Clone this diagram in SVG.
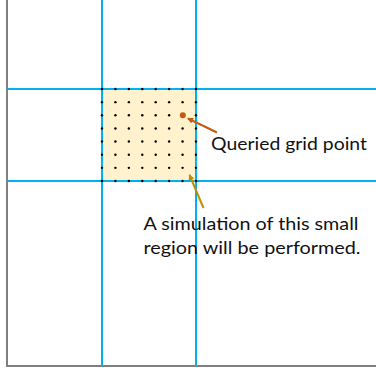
<svg xmlns="http://www.w3.org/2000/svg" xmlns:xlink="http://www.w3.org/1999/xlink" width="376" height="370" viewBox="0 0 376 370">
<style>
.grid{stroke:#00B0F0;stroke-width:2;fill:none}
.frame{stroke:#7F7F7F;stroke-width:2;fill:none}
.dot{fill:#000}
.lbl{font-family:"Lato","Liberation Sans",sans-serif;font-size:18px;fill:#111}
</style>
<defs>
<marker id="ahO" markerWidth="6" markerHeight="6" refX="5" refY="3" orient="auto" markerUnits="userSpaceOnUse"><path d="M0,0 L6,3 L0,6 z" fill="#C55A11"/></marker>
<marker id="ahG" markerWidth="6" markerHeight="6" refX="5" refY="3" orient="auto" markerUnits="userSpaceOnUse"><path d="M0,0 L6,3 L0,6 z" fill="#BF9000"/></marker>
<g id="dotrow">
<circle class="dot" cx="102" cy="0" r="1.2"/>
<circle class="dot" cx="115.43" cy="0" r="1.2"/>
<circle class="dot" cx="128.86" cy="0" r="1.2"/>
<circle class="dot" cx="142.29" cy="0" r="1.2"/>
<circle class="dot" cx="155.71" cy="0" r="1.2"/>
<circle class="dot" cx="169.14" cy="0" r="1.2"/>
<circle class="dot" cx="182.57" cy="0" r="1.2"/>
<circle class="dot" cx="196" cy="0" r="1.2"/>
</g>
</defs>
<g id="frame">
<polyline class="frame" points="7,0 7,366 376,366"/>
</g>
<g id="region">
<rect x="102" y="89" width="94" height="92" fill="#FFF2CC"/>
</g>
<g id="gridlines">
<line class="grid" x1="102" y1="0" x2="102" y2="366"/>
<line class="grid" x1="196" y1="0" x2="196" y2="366"/>
<line class="grid" x1="7" y1="89" x2="376" y2="89"/>
<line class="grid" x1="7" y1="181" x2="376" y2="181"/>
</g>
<g id="dots">
<use xlink:href="#dotrow" href="#dotrow" y="89"/>
<use xlink:href="#dotrow" href="#dotrow" y="102.14"/>
<use xlink:href="#dotrow" href="#dotrow" y="115.29"/>
<use xlink:href="#dotrow" href="#dotrow" y="128.43"/>
<use xlink:href="#dotrow" href="#dotrow" y="141.57"/>
<use xlink:href="#dotrow" href="#dotrow" y="154.71"/>
<use xlink:href="#dotrow" href="#dotrow" y="167.86"/>
<use xlink:href="#dotrow" href="#dotrow" y="181"/>
</g>
<g id="query">
<circle cx="182.8" cy="115.3" r="3" fill="#C55A11"/>
</g>
<g id="connectors">
<line x1="217" y1="132.5" x2="188" y2="118.5" stroke="#C55A11" stroke-width="2" marker-end="url(#ahO)"/>
<line x1="203.5" y1="208" x2="189.5" y2="175" stroke="#BF9000" stroke-width="2" marker-end="url(#ahG)"/>
</g>
<g id="label-query">
<text class="lbl" x="211" y="149.5" textLength="156" lengthAdjust="spacingAndGlyphs">Queried grid point</text>
</g>
<g id="label-sim">
<text class="lbl" x="143.5" y="230" textLength="215" lengthAdjust="spacingAndGlyphs">A simulation of this small</text>
<text class="lbl" x="143.5" y="254" textLength="217" lengthAdjust="spacingAndGlyphs">region will be performed.</text>
</g>
</svg>
